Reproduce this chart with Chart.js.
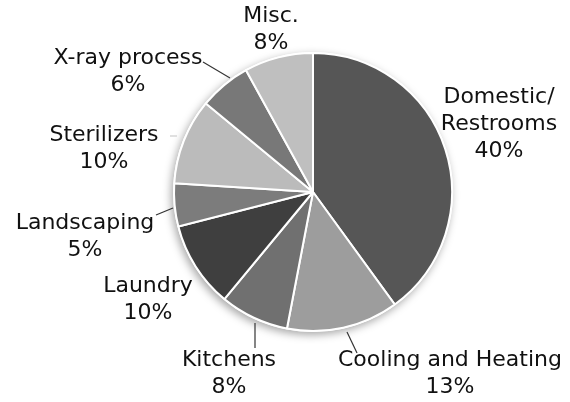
<!DOCTYPE html>
<html>
<head>
<meta charset="utf-8">
<script src="https://cdn.jsdelivr.net/npm/chart.js@4.4.0/dist/chart.umd.min.js"></script>
<style>
  html, body { margin: 0; padding: 0; background: #fff; }
  #wrap { width: 570px; height: 402px; }
</style>
</head>
<body>
<div id="wrap"><canvas id="usePie"></canvas></div>
<script>
// water use by category, percent of total
const categories = ['Domestic/Restrooms', 'Cooling and Heating', 'Kitchens', 'Laundry', 'Landscaping', 'Sterilizers', 'X-ray process', 'Misc.'];
const shares = [40, 13, 8, 10, 5, 10, 6, 8];
const labelLines = [['Domestic/', 'Restrooms'], ['Cooling and Heating'], ['Kitchens'], ['Laundry'], ['Landscaping'], ['Sterilizers'], ['X-ray process'], ['Misc.']];
const greys = ['#565656', '#9d9d9d', '#707070', '#3f3f3f', '#7c7c7c', '#bbbbbb', '#787878', '#bfbfbf'];

// label anchor (text centre, first line) relative to pie centre
const labelAt = [[186, -95], [137, 168], [-84, 168], [-165, 94], [-228, 31], [-209, -57], [-185, -134], [-42, -176]];
// leader lines, relative to pie centre
const leaders = [
  [[34, 140], [44, 161], '#333'],
  [[-58, 131], [-58, 156], '#333'],
  [[-157, 23], [-140, 16], '#333'],
  [[-110, -130], [-83, -114], '#333'],
  [[-143, -56], [-136, -56], '#ccc']
];

const FONT = '22px "DejaVu Sans"';
const LINE_H = 27;

const pieShadow = {
  id: 'pieShadow',
  beforeDatasetsDraw(chart) {
    const arc = chart.getDatasetMeta(0).data[0];
    const ctx = chart.ctx;
    ctx.save();
    ctx.beginPath();
    ctx.arc(arc.x, arc.y, arc.outerRadius + 1, 0, Math.PI * 2);
    ctx.fillStyle = '#fff';
    ctx.shadowColor = 'rgba(0,0,0,0.35)';
    ctx.shadowBlur = 9;
    ctx.shadowOffsetX = -2;
    ctx.shadowOffsetY = 3;
    ctx.fill();
    ctx.restore();
  }
};

const sliceLabels = {
  id: 'sliceLabels',
  afterDatasetsDraw(chart) {
    const arc = chart.getDatasetMeta(0).data[0];
    const cx = arc.x, cy = arc.y;
    const ctx = chart.ctx;
    ctx.save();
    ctx.lineWidth = 1.2;
    leaders.forEach(l => {
      ctx.strokeStyle = l[2];
      ctx.beginPath();
      ctx.moveTo(cx + l[0][0], cy + l[0][1]);
      ctx.lineTo(cx + l[1][0], cy + l[1][1]);
      ctx.stroke();
    });
    ctx.font = FONT;
    ctx.fillStyle = '#111';
    ctx.textAlign = 'center';
    ctx.textBaseline = 'middle';
    categories.forEach((c, i) => {
      const lines = labelLines[i].concat([shares[i] + '%']);
      const x = cx + labelAt[i][0];
      let y = cy + labelAt[i][1];
      lines.forEach(t => {
        ctx.fillText(t, x, y);
        y += LINE_H;
      });
    });
    ctx.restore();
  }
};

new Chart(document.getElementById('usePie'), {
  type: 'pie',
  data: {
    labels: categories,
    datasets: [{
      data: shares,
      backgroundColor: greys,
      borderColor: '#ffffff',
      borderWidth: 2
    }]
  },
  options: {
    responsive: true,
    maintainAspectRatio: false,
    animation: false,
    layout: { padding: { left: 173, right: 117, top: 52, bottom: 70 } },
    plugins: {
      legend: { display: false },
      tooltip: { enabled: false }
    }
  },
  plugins: [pieShadow, sliceLabels]
});
</script>
</body>
</html>
